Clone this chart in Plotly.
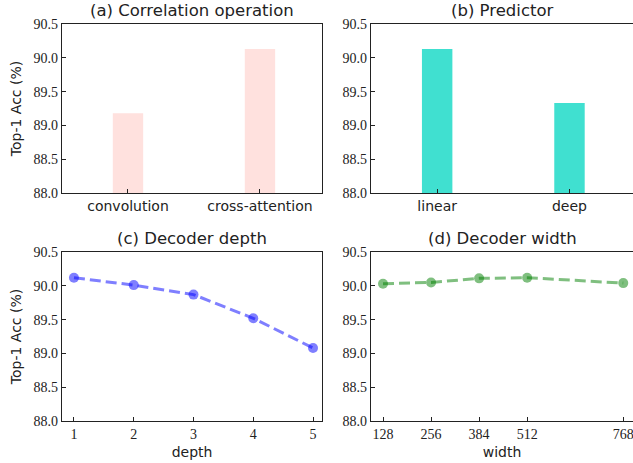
import plotly.graph_objects as go

# ---- data ----
corr_cats = ["convolution", "cross-attention"]
corr_vals = [89.18, 90.13]
pred_cats = ["linear", "deep"]
pred_vals = [90.13, 89.33]
depth_x = [1, 2, 3, 4, 5]
depth_y = [90.12, 90.01, 89.87, 89.52, 89.08]
width_x = [128, 256, 384, 512, 768]
width_y = [90.03, 90.05, 90.11, 90.12, 90.04]
y_ticks = [88.0, 88.5, 89.0, 89.5, 90.0, 90.5]
y_ticklabels = ["88.0", "88.5", "89.0", "89.5", "90.0", "90.5"]

W, H = 633, 463
SANS = "DejaVu Sans"
SERIF = "Liberation Serif"

fig = go.Figure()
fig.add_trace(go.Bar(x=[0, 1], y=corr_vals, width=0.23, marker_color="#ffe1de",
                     marker_line_width=0, xaxis="x", yaxis="y", showlegend=False))
fig.add_trace(go.Bar(x=[0, 1], y=pred_vals, width=0.23, marker_color="#40e0d0",
                     marker_line_width=0, xaxis="x2", yaxis="y2", showlegend=False))
fig.add_trace(go.Scatter(x=depth_x, y=depth_y, mode="lines+markers",
                         line=dict(color="rgba(0,0,255,0.5)", width=3, dash="11px,5px"),
                         marker=dict(size=10, color="rgba(0,0,255,0.5)"),
                         xaxis="x3", yaxis="y3", showlegend=False))
fig.add_trace(go.Scatter(x=width_x, y=width_y, mode="lines+markers",
                         line=dict(color="rgba(0,128,0,0.5)", width=3, dash="11px,5px"),
                         marker=dict(size=10, color="rgba(0,128,0,0.5)"),
                         xaxis="x4", yaxis="y4", showlegend=False))


def px_x(a, b):
    return [a / W, b / W]


def px_y(top, bot):
    return [1 - bot / H, 1 - top / H]


common_ax = dict(showline=True, linecolor="#222", linewidth=1.3, mirror=True,
                 ticks="inside", ticklen=4, tickcolor="#222", tickwidth=1,
                 showgrid=False, zeroline=False, automargin=False,
                 ticklabeloverflow="allow",
                 tickfont=dict(family=SERIF, size=14, color="#222"))

ydef = dict(common_ax, range=[88.0, 90.5], tickvals=y_ticks, ticktext=y_ticklabels)
lab = dict(family=SANS, size=14, color="#222")

fig.update_layout(
    width=W, height=H, margin=dict(l=0, r=0, t=0, b=0),
    plot_bgcolor="white", paper_bgcolor="white",
    xaxis=dict(common_ax, domain=px_x(62, 322), range=[-0.5, 1.47],
               tickvals=[0, 1], ticktext=corr_cats, anchor="y",
               tickfont=lab),
    yaxis=dict(ydef, domain=px_y(24, 193), anchor="x",
               title=dict(text="Top-1 Acc (%)", font=lab, standoff=8)),
    xaxis2=dict(common_ax, domain=px_x(371, 633), range=[-0.5, 1.48],
                tickvals=[0, 1], ticktext=pred_cats, anchor="y2",
                tickfont=lab),
    yaxis2=dict(ydef, domain=px_y(24, 193), anchor="x2"),
    xaxis3=dict(common_ax, domain=px_x(62, 322), range=[0.8, 5.15],
                tickvals=depth_x, anchor="y3",
                title=dict(text="depth", font=lab, standoff=6)),
    yaxis3=dict(ydef, domain=px_y(252, 421), anchor="x3",
                title=dict(text="Top-1 Acc (%)", font=lab, standoff=8)),
    xaxis4=dict(common_ax, domain=px_x(371, 633), range=[96, 794],
                tickvals=width_x, anchor="y4",
                title=dict(text="width", font=lab, standoff=6)),
    yaxis4=dict(ydef, domain=px_y(252, 421), anchor="x4"),
)

titles = [("(a) Correlation operation", 192, 10), ("(b) Predictor", 502, 10),
          ("(c) Decoder depth", 192, 238), ("(d) Decoder width", 502, 238)]
for t, cx, cy in titles:
    fig.add_annotation(text=t, x=cx / W, y=1 - cy / H, xref="paper", yref="paper",
                       showarrow=False, xanchor="center", yanchor="middle",
                       font=dict(family=SANS, size=16.5, color="#222"))

fig.write_html("out.html", config={"displayModeBar": False},
               post_script="document.body.style.margin='0';document.body.style.overflow='hidden';")
